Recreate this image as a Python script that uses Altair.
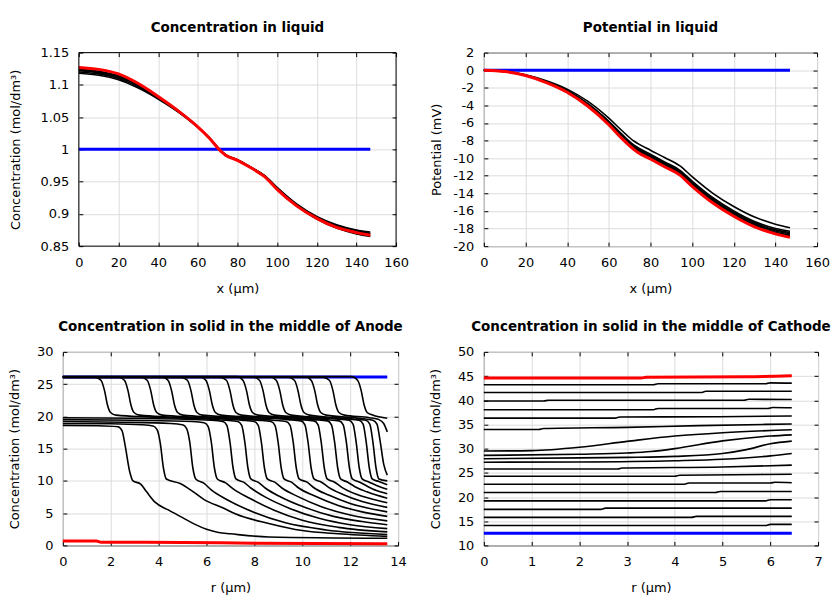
import altair as alt
import pandas as pd

FONT = "DejaVu Sans"
BLUE = "#0000ff"
RED = "#ff0000"

# ---------------- Concentration in liquid (x in µm) ----------------
liq_x = [0, 10, 20, 30, 40, 50, 60, 66, 72, 74, 80, 87, 94, 100, 110, 120, 130, 140, 147]
liq_blue_x = [0, 147]
liq_conc_blue = [1.0, 1.0]
liq_conc_red = [1.127, 1.124, 1.117, 1.102, 1.082, 1.060, 1.035, 1.017, 0.996, 0.991, 0.983,
                0.971, 0.957, 0.938, 0.912, 0.893, 0.879, 0.871, 0.867]
liq_conc_black = [
    [1.118, 1.115, 1.108, 1.095, 1.078, 1.058, 1.034, 1.017, 0.997, 0.992, 0.984, 0.972, 0.959, 0.941, 0.915, 0.896, 0.883, 0.875, 0.872],
    [1.120, 1.117, 1.110, 1.097, 1.079, 1.059, 1.035, 1.017, 0.997, 0.992, 0.984, 0.972, 0.958, 0.940, 0.914, 0.895, 0.882, 0.874, 0.870],
    [1.122, 1.119, 1.112, 1.099, 1.080, 1.059, 1.035, 1.017, 0.996, 0.991, 0.983, 0.971, 0.958, 0.939, 0.913, 0.894, 0.881, 0.872, 0.869],
    [1.123, 1.120, 1.113, 1.100, 1.081, 1.060, 1.035, 1.017, 0.996, 0.991, 0.983, 0.971, 0.957, 0.938, 0.912, 0.893, 0.879, 0.870, 0.866],
    [1.124, 1.121, 1.114, 1.100, 1.081, 1.060, 1.035, 1.017, 0.996, 0.991, 0.983, 0.971, 0.957, 0.938, 0.912, 0.892, 0.878, 0.869, 0.865],
]

# ---------------- Potential in liquid (mV) ----------------
pot_blue = [0.0, 0.0]
pot_red = [0, -0.15, -0.6, -1.4, -2.5, -4.1, -6.2, -7.7, -9.0, -9.35, -10.1, -11.0, -11.9, -13.2,
           -15.1, -16.6, -17.8, -18.6, -19.0]
pot_black = [
    [0, -0.13, -0.52, -1.2, -2.15, -3.55, -5.45, -6.8, -8.05, -8.35, -9.1, -9.95, -10.85, -12.1, -14.0, -15.5, -16.7, -17.5, -17.9],
    [0, -0.14, -0.56, -1.3, -2.3, -3.8, -5.8, -7.2, -8.5, -8.8, -9.55, -10.45, -11.35, -12.6, -14.5, -16.0, -17.2, -18.0, -18.3],
    [0, -0.14, -0.57, -1.32, -2.35, -3.86, -5.88, -7.3, -8.6, -8.92, -9.67, -10.57, -11.48, -12.75, -14.65, -16.15, -17.35, -18.15, -18.45],
    [0, -0.14, -0.58, -1.34, -2.4, -3.93, -5.96, -7.4, -8.7, -9.02, -9.78, -10.68, -11.6, -12.87, -14.78, -16.28, -17.48, -18.28, -18.6],
    [0, -0.15, -0.59, -1.37, -2.44, -4.0, -6.05, -7.5, -8.8, -9.13, -9.9, -10.8, -11.72, -13.0, -14.9, -16.4, -17.6, -18.42, -18.75],
    [0, -0.15, -0.6, -1.38, -2.47, -4.05, -6.12, -7.6, -8.9, -9.24, -10.0, -10.9, -11.82, -13.1, -15.0, -16.5, -17.7, -18.52, -18.88],
]

# ---------------- Anode solid concentration vs r (µm) ----------------
anode_blue = [(0, 26.1), (13.55, 26.1)]
anode_red = [(0, 0.7), (1.4, 0.7), (1.6, 0.5), (5.0, 0.45), (8.0, 0.35), (13.55, 0.25)]
anode_black = [
    [(0, 26.16), (12.06, 26.16), (12.31, 25.6), (12.46, 24.0), (12.58, 21.8), (12.71, 20.6), (12.94, 20.2), (13.55, 19.7)],
    [(0, 26.04), (10.88, 26.04), (11.13, 25.6), (11.28, 24.0), (11.4, 21.8), (11.53, 20.6), (11.76, 20.2), (12.8, 19.8), (13.2, 19.5), (13.4, 18.9), (13.55, 17.6)],
    [(0, 26.14), (10.12, 26.14), (10.37, 25.6), (10.52, 24.0), (10.64, 21.8), (10.77, 20.6), (11.0, 20.2), (12.4, 19.7), (12.95, 19.4), (13.12, 18.8), (13.25, 16.2), (13.4, 12.6), (13.55, 10.9)],
    [(0, 26.06), (9.42, 26.06), (9.67, 25.6), (9.82, 24.0), (9.94, 21.8), (10.07, 20.6), (10.3, 20.2), (12.1, 19.6), (12.65, 19.4), (12.82, 18.8), (12.95, 16.0), (13.08, 12.0), (13.2, 10.3), (13.55, 10.0)],
    [(0, 26.12), (8.66, 26.12), (8.91, 25.6), (9.06, 24.0), (9.18, 21.8), (9.31, 20.6), (9.54, 20.2), (11.8, 19.6), (12.37, 19.4), (12.54, 18.8), (12.67, 16.0), (12.8, 12.0), (12.92, 10.3), (13.2, 9.9), (13.55, 9.4)],
    [(0, 26.08), (7.96, 26.08), (8.21, 25.6), (8.36, 24.0), (8.48, 21.8), (8.61, 20.6), (8.84, 20.2), (11.4, 19.6), (11.95, 19.4), (12.12, 18.8), (12.25, 16.0), (12.38, 12.0), (12.5, 10.3), (12.8, 9.8), (13.1, 9.3), (13.55, 8.7)],
    [(0, 26.17), (7.27, 26.17), (7.52, 25.6), (7.67, 24.0), (7.79, 21.8), (7.92, 20.6), (8.15, 20.2), (11.0, 19.5), (11.54, 19.3), (11.71, 18.7), (11.84, 16.0), (11.97, 12.0), (12.09, 10.3), (12.4, 9.8), (12.7, 9.2), (13.1, 8.5), (13.55, 8.0)],
    [(0, 26.03), (6.58, 26.03), (6.83, 25.6), (6.98, 24.0), (7.1, 21.8), (7.23, 20.6), (7.46, 20.2), (10.5, 19.5), (11.05, 19.3), (11.22, 18.7), (11.35, 16.0), (11.48, 12.0), (11.6, 10.3), (11.9, 9.8), (12.2, 9.1), (12.7, 8.3), (13.55, 7.3)],
    [(0, 26.15), (5.72, 26.15), (5.97, 25.6), (6.12, 24.0), (6.24, 21.8), (6.37, 20.6), (6.6, 20.2), (9.9, 19.5), (10.49, 19.3), (10.66, 18.7), (10.79, 16.0), (10.92, 12.0), (11.04, 10.3), (11.35, 9.8), (11.65, 9.0), (12.2, 8.0), (12.8, 7.3), (13.55, 6.6)],
    [(0, 26.05), (4.95, 26.05), (5.2, 25.6), (5.35, 24.0), (5.47, 21.8), (5.6, 20.6), (5.83, 20.2), (9.4, 19.5), (9.94, 19.3), (10.11, 18.7), (10.24, 16.0), (10.37, 12.0), (10.49, 10.3), (10.8, 9.8), (11.1, 9.0), (11.7, 7.9), (12.5, 6.8), (13.55, 5.9)],
    [(0, 26.13), (4.14, 26.13), (4.39, 25.6), (4.54, 24.0), (4.66, 21.8), (4.79, 20.6), (5.02, 20.2), (8.8, 19.4), (9.32, 19.2), (9.49, 18.6), (9.62, 16.0), (9.75, 12.0), (9.87, 10.3), (10.2, 9.8), (10.5, 8.9), (11.1, 7.8), (12.0, 6.5), (13.55, 5.2)],
    [(0, 26.07), (3.27, 26.07), (3.52, 25.6), (3.67, 24.0), (3.79, 21.8), (3.92, 20.6), (4.15, 20.2), (8.15, 19.4), (8.69, 19.2), (8.86, 18.6), (8.99, 16.0), (9.12, 12.0), (9.24, 10.3), (9.55, 9.8), (9.85, 8.9), (10.5, 7.7), (11.5, 6.2), (12.5, 5.2), (13.55, 4.5)],
    [(0, 26.11), (2.32, 26.11), (2.57, 25.6), (2.72, 24.0), (2.84, 21.8), (2.97, 20.6), (3.2, 20.2), (7.45, 19.4), (7.99, 19.2), (8.16, 18.6), (8.29, 16.0), (8.42, 12.0), (8.54, 10.3), (8.85, 9.8), (9.15, 8.9), (9.8, 7.6), (10.8, 6.0), (12.0, 4.7), (13.55, 3.8)],
    [(0, 26.09), (1.34, 26.09), (1.59, 25.6), (1.74, 24.0), (1.86, 21.8), (1.99, 20.6), (2.22, 20.2), (6.8, 19.4), (7.3, 19.2), (7.47, 18.6), (7.6, 16.0), (7.73, 12.0), (7.85, 10.3), (8.15, 9.8), (8.45, 8.9), (9.1, 7.5), (10.1, 5.9), (11.3, 4.5), (12.5, 3.7), (13.55, 3.2)],
    [(0, 19.8), (3.0, 19.7), (6.2, 19.4), (6.68, 19.2), (6.85, 18.6), (6.98, 16.0), (7.11, 12.0), (7.23, 10.3), (7.55, 9.8), (7.85, 8.9), (8.5, 7.4), (9.5, 5.7), (10.7, 4.2), (12.0, 3.2), (13.55, 2.6)],
    [(0, 19.5), (3.0, 19.4), (5.4, 19.2), (5.9, 19.0), (6.07, 18.4), (6.2, 16.0), (6.33, 12.0), (6.45, 10.3), (6.8, 9.7), (7.1, 8.8), (7.8, 7.3), (8.8, 5.5), (10.0, 3.9), (11.5, 2.8), (13.55, 2.1)],
    [(0, 19.2), (2.5, 19.1), (4.5, 18.9), (5.0, 18.7), (5.17, 18.1), (5.3, 16.0), (5.43, 12.0), (5.55, 10.3), (5.9, 9.6), (6.2, 8.6), (6.9, 7.0), (8.0, 5.1), (9.3, 3.5), (11.0, 2.4), (13.55, 1.7)],
    [(0, 18.9), (2.0, 18.85), (3.3, 18.7), (3.77, 18.5), (3.94, 17.9), (4.07, 15.8), (4.2, 12.0), (4.32, 10.3), (4.9, 9.6), (5.45, 8.3), (5.9, 7.1), (6.7, 5.8), (7.2, 4.9), (8.6, 3.4), (10.0, 2.3), (11.5, 1.8), (13.55, 1.4)],
    [(0, 18.6), (1.5, 18.55), (2.3, 18.4), (2.47, 17.8), (2.6, 15.5), (2.8, 11.3), (2.92, 10.05), (3.25, 9.5), (3.5, 8.3), (3.85, 6.7), (4.4, 5.5), (5.0, 4.3), (5.5, 3.3), (6.0, 2.5), (6.5, 2.0), (7.0, 1.8), (8.6, 1.3), (13.55, 1.1)],
]

# ---------------- Cathode solid concentration vs r (µm) ----------------
cathode_blue = [(0, 12.5), (6.45, 12.5)]
cathode_red = [(0, 44.6), (3.3, 44.6), (3.4, 44.75), (5.5, 44.85), (6.45, 45.05)]
cathode_black = [
    [(0, 43.2), (3.55, 43.2), (3.65, 43.4), (5.9, 43.4), (6.0, 43.6), (6.45, 43.55)],
    [(0, 41.6), (4.55, 41.6), (4.65, 41.85), (6.45, 41.85)],
    [(0, 39.85), (1.25, 39.85), (1.35, 40.0), (5.45, 40.0), (5.55, 40.2), (6.45, 40.15)],
    [(0, 38.05), (3.55, 38.05), (3.65, 38.3), (5.95, 38.3), (6.05, 38.5), (6.45, 38.45)],
    [(0, 36.3), (2.75, 36.3), (2.85, 36.55), (4.8, 36.6), (6.45, 36.75)],
    [(0, 33.95), (1.15, 33.95), (1.25, 34.15), (3.0, 34.4), (4.5, 34.75), (6.45, 35.1)],
    [(0, 29.5), (1.0, 29.6), (2.0, 30.3), (3.0, 31.5), (4.0, 32.6), (5.0, 33.3), (6.45, 33.9)],
    [(0, 28.6), (2.0, 28.85), (3.0, 29.1), (3.5, 29.4), (4.0, 30.0), (5.0, 31.6), (6.0, 32.6), (6.45, 32.85)],
    [(0, 27.9), (2.0, 28.1), (3.0, 28.2), (4.0, 28.4), (5.0, 29.0), (5.5, 29.8), (6.0, 31.0), (6.45, 31.55)],
    [(0, 27.2), (2.0, 27.25), (4.0, 27.5), (5.0, 27.8), (6.0, 28.5), (6.45, 29.0)],
    [(0, 25.8), (2.8, 25.8), (2.9, 26.0), (5.0, 26.2), (6.45, 26.6)],
    [(0, 24.3), (4.0, 24.3), (4.1, 24.5), (6.45, 24.7)],
    [(0, 22.65), (4.2, 22.65), (4.3, 22.9), (6.0, 22.9), (6.1, 23.05), (6.45, 22.95)],
    [(0, 20.95), (4.85, 20.95), (4.95, 21.15), (6.45, 21.15)],
    [(0, 19.2), (5.9, 19.2), (6.0, 19.45), (6.45, 19.45)],
    [(0, 17.45), (2.45, 17.45), (2.55, 17.7), (6.45, 17.7)],
    [(0, 15.8), (4.35, 15.8), (4.45, 16.0), (6.45, 16.0)],
    [(0, 14.1), (5.9, 14.1), (6.0, 14.35), (6.45, 14.35)],
]

# axis ticks
liq_xticks = [0, 20, 40, 60, 80, 100, 120, 140, 160]
conc_liq_yticks = [0.85, 0.9, 0.95, 1, 1.05, 1.1, 1.15]
pot_yticks = [-20, -18, -16, -14, -12, -10, -8, -6, -4, -2, 0, 2]
anode_xticks = [0, 2, 4, 6, 8, 10, 12, 14]
anode_yticks = [0, 5, 10, 15, 20, 25, 30]
cathode_xticks = [0, 1, 2, 3, 4, 5, 6, 7]
cathode_yticks = [10, 15, 20, 25, 30, 35, 40, 45, 50]


def rows_from_xy(kind, cid, xs, ys):
    return [{"kind": kind, "cid": cid, "x": a, "y": b} for a, b in zip(xs, ys)]


def rows_from_pts(kind, cid, pts):
    return [{"kind": kind, "cid": cid, "x": a, "y": b} for a, b in pts]


def liq_df(blue, black, red):
    rows = rows_from_xy("blue", 0, liq_blue_x, blue)
    for i, c in enumerate(black):
        rows += rows_from_xy("black", i + 1, liq_x, c)
    rows += rows_from_xy("red", 99, liq_x, red)
    return pd.DataFrame(rows)


def solid_df(blue, black, red):
    rows = rows_from_pts("blue", 0, blue)
    for i, c in enumerate(black):
        rows += rows_from_pts("black", i + 1, c)
    rows += rows_from_pts("red", 99, red)
    return pd.DataFrame(rows)


LAB = "'' + datum.value"


def panel(df, title, xtitle, ytitle, xdom, xvals, ydom, yvals, w, h, ypad, inset=0):
    if inset:
        xs = alt.Scale(domain=xdom, nice=False, zero=False, range=[inset, w])
    else:
        xs = alt.Scale(domain=xdom, nice=False, zero=False)
    ys = alt.Scale(domain=ydom, nice=False, zero=False)
    xa = alt.Axis(values=xvals, title=xtitle, orient="bottom", offset=-4, tickSize=4,
                  domain=False, grid=True, labelPadding=10, titlePadding=13, labelExpr=LAB,
                  labelFlush=False)
    ya = alt.Axis(values=yvals, title=ytitle, orient="left", offset=-4 - inset, tickSize=4,
                  domain=False, grid=True, labelPadding=10, titlePadding=ypad, labelExpr=LAB,
                  labelFlush=False)
    xm = alt.Axis(values=xvals, title=None, orient="top", offset=-4, tickSize=4,
                  domain=False, grid=False, labels=False)
    ym = alt.Axis(values=yvals, title=None, orient="right", offset=-4, tickSize=4,
                  domain=False, grid=False, labels=False)
    base = alt.Chart(df)
    blue = base.transform_filter("datum.kind == 'blue'").mark_line(
        color=BLUE, strokeWidth=3, interpolate="monotone").encode(
        x=alt.X("x:Q", scale=xs, axis=xa), y=alt.Y("y:Q", scale=ys, axis=ya), detail="cid:N")
    black = base.transform_filter("datum.kind == 'black'").mark_line(
        color="black", strokeWidth=1.6, interpolate="monotone").encode(
        x=alt.X("x:Q", scale=xs, axis=None), y=alt.Y("y:Q", scale=ys, axis=None), detail="cid:N")
    red = base.transform_filter("datum.kind == 'red'").mark_line(
        color=RED, strokeWidth=3, interpolate="monotone").encode(
        x=alt.X("x:Q", scale=xs, axis=xm), y=alt.Y("y:Q", scale=ys, axis=ym), detail="cid:N")
    layers = [blue, black, red]
    if inset:
        # frame of the plot area, drawn on the axis domain limits
        vframe = alt.Chart(pd.DataFrame({"x": xdom})).mark_rule(color="black", strokeWidth=1).encode(
            x=alt.X("x:Q", scale=xs, axis=None))
        hframe = alt.Chart(pd.DataFrame({"y": ydom, "xa": [xdom[0]] * 2, "xb": [xdom[1]] * 2})).mark_rule(
            color="black", strokeWidth=1).encode(
            y=alt.Y("y:Q", scale=ys, axis=None), x=alt.X("xa:Q", scale=xs, axis=None), x2="xb:Q")
        layers += [vframe, hframe]
        ttl = alt.Title(title, dx=inset / 2)
        props = dict(width=w, height=h, title=ttl, view=alt.ViewBackground(stroke="transparent"))
    else:
        props = dict(width=w, height=h, title=alt.Title(title))
    return alt.layer(*layers).resolve_axis(x="independent", y="independent").properties(**props)


p1 = panel(liq_df(liq_conc_blue, liq_conc_black, liq_conc_red), "Concentration in liquid",
           "x (µm)", "Concentration (mol/dm³)", [0, 160], liq_xticks, [0.85, 1.15], conc_liq_yticks,
           334, 194, 18, inset=16)
p2 = panel(liq_df(pot_blue, pot_black, pot_red), "Potential in liquid",
           "x (µm)", "Potential (mV)", [0, 160], liq_xticks, [-20, 2], pot_yticks,
           334, 194, 9)
p3 = panel(solid_df(anode_blue, anode_black, anode_red), "Concentration in solid in the middle of Anode",
           "r (µm)", "Concentration (mol/dm³)", [0, 14], anode_xticks, [0, 30], anode_yticks,
           336, 194, 14.5)
p4 = panel(solid_df(cathode_blue, cathode_black, cathode_red), "Concentration in solid in the middle of Cathode",
           "r (µm)", "Concentration (mol/dm³)", [0, 7], cathode_xticks, [10, 50], cathode_yticks,
           335, 194, 14.5)

top = alt.hconcat(p1, p2, spacing=21)
bottom = alt.hconcat(p3, p4, spacing=22)

chart = alt.vconcat(top, bottom, spacing=24).properties(
    padding={"left": 0, "top": 12, "right": 0, "bottom": 0}
).configure(font=FONT).configure_view(
    stroke="black", strokeWidth=1
).configure_axis(
    labelFont=FONT, labelFontSize=13, labelColor="black",
    titleFont=FONT, titleFontSize=13, titleFontWeight="normal", titleColor="black",
    tickColor="black", tickWidth=1, gridColor="#dcdcdc", gridWidth=1
).configure_title(
    font=FONT, fontSize=13.5, fontWeight="bold", color="black", offset=12, anchor="middle"
)

chart.save("out.html", embed_options={"renderer": "svg", "actions": False})
